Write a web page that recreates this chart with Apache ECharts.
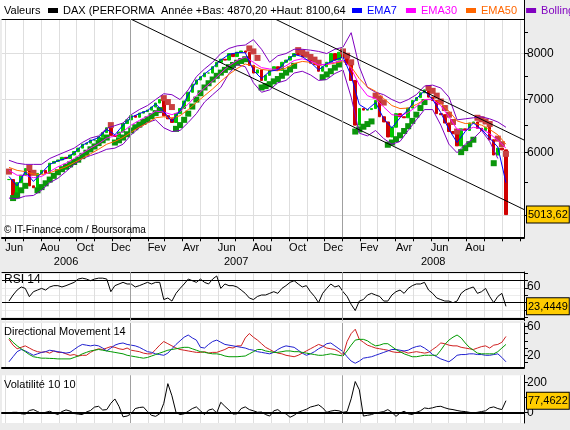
<!DOCTYPE html>
<html>
<head>
<meta charset="utf-8">
<title>DAX</title>
<script src="https://cdn.jsdelivr.net/npm/echarts@6/dist/echarts.min.js"></script>
<style>
html, body { margin: 0; padding: 0; background: #ececec; }
#main { width: 570px; height: 430px; }
</style>
</head>
<body>
<div id="main"></div>
<script>
var DAY = 86400000
var firstDay = Date.UTC(2006, 5, 7)   // premier point hebdo
var lastDay = Date.UTC(2008, 9, 8)
var xMin = Date.UTC(2006, 4, 26)
var xMax = Date.UTC(2008, 10, 8)

var monthNames = ['Jan', 'Fev', 'Mar', 'Avr', 'Mai', 'Jun', 'Jul', 'Aou', 'Sep', 'Oct', 'Nov', 'Dec']
var yearLow = 4870.20
var yearHigh = 8100.64

// cours de cloture, un point par semaine
var closes = [5550, 5300, 5500, 5620, 5730, 5450, 5420, 5650, 5700, 5650,
    5820, 5850, 5875, 5920, 5900, 5960, 6020, 6080, 6150, 6170,
    6225, 6225, 6285, 6360, 6450, 6310, 6290, 6370, 6530, 6600,
    6680, 6650, 6730, 6760, 6790, 6850, 6930, 7000, 6680, 6620,
    6550, 6720, 6820, 6970, 7150, 7320, 7410, 7480, 7560, 7560,
    7700, 7800, 7870, 7850, 8000, 7930, 8030, 8060, 8030, 7730,
    7560, 7630, 7400, 7510, 7620, 7700, 7620, 7800, 7850, 7930,
    8000, 7970, 7920, 7930, 7780, 7750, 7600, 7700, 7800, 8000,
    7850, 8030, 7900, 7750, 7400, 6500, 6820, 6790, 6800, 6820,
    6980, 6660, 6560, 6280, 6460, 6720, 6660, 6640, 6830, 6980,
    7040, 7140, 7200, 7050, 6980, 6720, 6700, 6540, 6380, 6340,
    6120, 6430, 6400, 6540, 6560, 6440, 6400, 6460, 6230, 5960,
    6080, 6050, 5013.62]

// parabolic SAR, hebdo
var sar = [5680, 5260, 5300, 5380, 5450, 5740, 5660, 5380, 5430, 5490,
    5550, 5610, 5670, 5720, 5760, 5800, 5840, 5880, 5940, 6000,
    6060, 6110, 6170, 6220, 6270, 6500, 6180, 6220, 6270, 6330,
    6400, 6460, 6510, 6560, 6610, 6670, 6730, 6790, 7030, 6950,
    6850, 6430, 6500, 6600, 6720, 6860, 7000, 7130, 7250, 7340,
    7420, 7500, 7570, 7630, 7690, 7740, 7790, 7830, 7870, 8120,
    8050, 7900, 7250, 7280, 7320, 7380, 7430, 7500, 7570, 7640,
    7720, 8080, 8030, 7980, 7920, 7860, 7790, 7470, 7530, 7600,
    7680, 7750, 8050, 7950, 7800, 6380, 6420, 6470, 6520, 6570,
    7080, 7020, 6940, 6140, 6180, 6240, 6310, 6390, 6480, 6580,
    6700, 6830, 6950, 7240, 7180, 7080, 6960, 6830, 6700, 6560,
    6380, 6010, 6080, 6150, 6230, 6640, 6610, 6570, 6520, 5820,
    6250, 6150, 5980]

// moyennes et bandes, un point toutes les deux semaines
var ema7 = [5600, 5450, 5680, 5520, 5660, 5800, 5860, 5900, 6000, 6130,
    6210, 6270, 6420, 6320, 6500, 6650, 6720, 6780, 6910, 6760,
    6570, 6780, 7100, 7380, 7540, 7680, 7850, 7980, 8020, 8020,
    7620, 7440, 7600, 7630, 7820, 7980, 7930, 7800, 7630, 7770,
    7850, 7920, 7500, 6900, 6800, 6940, 6620, 6450, 6640, 6800,
    7020, 7180, 7000, 6740, 6420, 6180, 6380, 6540, 6420, 6260,
    6100, 5500]
var ema30 = [5700, 5620, 5620, 5580, 5600, 5680, 5760, 5820, 5900, 5990,
    6080, 6160, 6260, 6300, 6380, 6500, 6590, 6670, 6770, 6750,
    6700, 6760, 6910, 7080, 7240, 7390, 7560, 7720, 7840, 7920,
    7800, 7680, 7650, 7640, 7720, 7840, 7880, 7830, 7740, 7760,
    7800, 7850, 7660, 7300, 7080, 7020, 6850, 6700, 6680, 6740,
    6860, 7000, 7000, 6880, 6660, 6420, 6400, 6460, 6430, 6340,
    6220, 6080]
var ema50 = [5750, 5700, 5680, 5640, 5630, 5660, 5710, 5760, 5830, 5900,
    5980, 6060, 6150, 6200, 6270, 6370, 6460, 6540, 6640, 6660,
    6640, 6680, 6800, 6940, 7080, 7220, 7380, 7530, 7660, 7760,
    7720, 7640, 7620, 7610, 7670, 7770, 7820, 7800, 7740, 7750,
    7780, 7820, 7700, 7440, 7260, 7170, 7020, 6880, 6820, 6830,
    6900, 7000, 7010, 6930, 6770, 6580, 6530, 6540, 6500, 6420,
    6320, 6150]
var bollUp = [5870, 5820, 5800, 5800, 5800, 5900, 5960, 6020, 6080, 6180,
    6260, 6300, 6440, 6490, 6540, 6700, 6800, 6880, 7000, 7120,
    7100, 7000, 7200, 7480, 7650, 7800, 8000, 8120, 8180, 8200,
    8330, 8100, 7800, 7950, 8000, 8100, 8100, 8080, 8050, 8000,
    8100, 8150, 8500, 7700, 7250, 7150, 7100, 7000, 6930, 7000,
    7100, 7280, 7300, 7240, 7050, 6600, 6620, 6640, 6660, 6620,
    6560, 6460]
var bollLow = [5260, 5250, 5290, 5300, 5380, 5500, 5570, 5680, 5800, 5900,
    5950, 6000, 6060, 6080, 6150, 6320, 6450, 6550, 6600, 6450,
    6380, 6400, 6550, 6720, 6950, 7100, 7250, 7550, 7750, 7700,
    7350, 7150, 7200, 7350, 7400, 7560, 7600, 7520, 7400, 7420,
    7550, 7630, 7050, 6350, 6300, 6400, 6250, 6150, 6200, 6400,
    6600, 6800, 6800, 6500, 6150, 6000, 6150, 6250, 6400, 6200,
    5900, null]

// canal baissier : [date, cours] aux deux bouts
var trendUpper = [[Date.UTC(2007, 8, 9), 8830], [Date.UTC(2008, 10, 8), 6225]]
var trendLower = [[Date.UTC(2007, 0, 4), 8830], [Date.UTC(2008, 10, 8), 5088]]

// indicateurs, hebdo
var rsi = [33, 44, 53, 58.6, 56, 41, 50, 53, 56, 53,
    58.6, 61, 61, 58.6, 61, 64, 67, 73, 74.6, 73,
    70, 73, 74.6, 74.6, 73, 50, 61, 64, 67, 64,
    64, 58.6, 61, 64, 67, 64, 67, 67, 35.7, 38.6,
    33, 47, 56, 64, 73, 70, 67, 73, 67, 64,
    73, 78.6, 56, 64, 61, 61, 58.6, 53, 47, 38.6,
    35.7, 41.4, 44, 44, 47, 50, 47, 56, 61, 67,
    70, 64, 58.6, 61, 50, 41.4, 30, 47, 56, 64,
    58.6, 61, 50, 41.4, 27, 15.7, 33, 35.7, 44, 47,
    44, 41.4, 33, 33, 44, 50, 53, 47, 56, 61,
    64, 64, 67, 53, 47, 38.6, 35.7, 33, 33, 30,
    33, 47, 53, 56, 58.6, 47, 50, 56, 41.4, 30,
    41.4, 47, 23.4449]
var dmRed = [42, 34, 29, 31, 33, 30, 27, 25, 24, 25,
    23, 26, 24, 24, 22, 20, 21, 19, 20, 20,
    24, 27, 29, 28, 30, 32, 31, 29, 28, 30,
    27, 26, 25, 23, 22, 22, 28, 34, 39, 36,
    33, 30, 28, 27, 26, 25, 24, 24, 25, 23,
    24, 24, 26, 28, 31, 30, 33, 33, 44, 50,
    45, 41, 36, 31, 28, 25, 23, 22, 20, 19,
    18, 20, 23, 26, 29, 32, 35, 33, 30, 29,
    28, 25, 20, 39, 50, 56, 42, 38, 34, 32,
    30, 29, 28, 27, 25, 24, 24, 25, 23, 24,
    25, 24, 23, 24, 28, 32, 37, 36, 34, 33,
    33, 31, 30, 29, 28, 30, 32, 33, 30, 34,
    35, 38, 46]
var dmBlue = [11, 18, 25, 28, 26, 23, 20, 22, 24, 25,
    27, 26, 25, 24, 23, 24, 28, 32, 35, 34,
    33, 34, 33, 30, 26, 30, 34, 36, 37, 35,
    34, 33, 31, 28, 25, 24, 22, 21, 20, 23,
    29, 35, 40, 45, 48, 44, 41, 31, 30, 35,
    39, 41, 38, 35, 34, 33, 32, 31, 30, 28,
    27, 25, 24, 23, 22, 24, 28, 31, 33, 32,
    31, 27, 23, 20, 22, 25, 29, 32, 36, 37,
    33, 29, 25, 18, 12, 9, 12, 16, 17, 18,
    20, 22, 24, 26, 28, 28, 27, 26, 27, 30,
    32, 33, 30, 26, 21, 18, 15, 13, 11, 15,
    20, 21, 21, 22, 22, 21, 21, 20, 20, 21,
    22, 17, 11]
var adx = [44, 38, 33, 29, 25, 21, 18, 17, 16, 16,
    15.7, 15.5, 15, 15, 15, 15, 17, 19, 22, 24,
    26, 27, 28, 27, 26, 25, 24, 23, 22, 20,
    19, 18, 17, 16, 17, 19, 21, 23, 25, 27,
    28, 29, 30, 31, 31, 29, 27, 25, 24, 23,
    22, 22, 21, 19, 18, 18, 18, 18.5, 19, 22,
    25, 28, 28, 26, 25, 24, 24, 25, 26, 26,
    25, 25, 24, 23, 22, 21, 20, 20, 21, 22,
    21, 20, 19, 26, 34, 41, 42, 42, 40, 36,
    33, 34, 36, 36, 32, 28, 25, 22, 20, 18,
    18, 19, 20, 20, 20, 20, 27, 35, 41, 45,
    48, 44, 37, 31, 27, 23, 22, 22, 22, 22,
    25, 30, 35]
var volat = [-4, 0, 0, -10, -12, 12, 18, 5, -8, 0,
    7, -5, -15, 5, 16, 8, -8, -12, -15, 2,
    12, 35, 40, 15, 18, 60, 89, 40, -30, -25,
    -10, 25, 32, 35, 5, -20, -27, -10, 60, 191,
    110, 0, -15, -10, 7, 25, 36, 10, -15, 15,
    22, -4, 67, 40, 15, -12, -10, 25, 36, 18,
    10, 0, 2, -15, -25, 10, 18, -4, -10, -33,
    -20, 0, 10, 20, 35, 42, 50, 30, 0, 8,
    13, 10, 0, 5, 90, 205, 150, -25, -20, -15,
    -5, 0, 5, 18, 0, -27, -5, 7, -10, -15,
    0, 10, 29, 25, 30, 38, 40, 30, 22, 18,
    12, 7, 5, 0, -4, 0, 5, 10, 30, 36,
    25, 18, 77.4622]

var font = 'Liberation Sans, Arial, sans-serif'
var gridColor = '#dedede'

function weekly(arr) {
    return arr.map(function (v, i) { return [firstDay + i * 7 * DAY, v] })
}
function biweekly(arr) {
    return arr.map(function (v, i) { return [firstDay + i * 14 * DAY, v] })
}
function frNum(v, d) {
    return v.toFixed(d).replace('.', ',')
}

function getCandles() {
    return closes.map(function (c, i) {
        var o = i > 0 ? closes[i - 1] : c
        return [firstDay + i * 7 * DAY, o, c, Math.min(o, c), Math.max(o, c)]
    })
}
function getSar() {
    return sar.map(function (v, i) {
        return {
            value: [firstDay + i * 7 * DAY, v],
            itemStyle: { color: v < closes[i] ? '#0b960b' : '#c84040', opacity: 1 }
        }
    })
}

/* graduations du temps */
function getMonthStarts() {
    var out = []
    for (var y = 2006; y <= 2008; y++) {
        for (var m = 0; m < 12; m++) {
            var t = Date.UTC(y, m, 1)
            if (t >= xMin && t <= xMax) out.push(t)
        }
    }
    return out
}
function getMonthMids() {
    var out = [], t
    for (var k = 0; ; k++) {
        t = Date.UTC(2006, 5 + 2 * k, 16)
        if (t > lastDay) break
        out.push(t)
    }
    return out
}
function getYearMids() {
    var out = []
    for (var y = 2006; y <= 2008; y++) {
        var a = Math.max(xMin, Date.UTC(y, 0, 1))
        var b = Math.min(xMax, Date.UTC(y + 1, 0, 1))
        out.push((a + b) / 2)
    }
    return out
}
var monthStarts = getMonthStarts()
var yearLines = [{ xAxis: Date.UTC(2007, 0, 1) }, { xAxis: Date.UTC(2008, 0, 1) }]

function markLines(extra) {
    return {
        silent: true,
        symbol: ['none', 'none'],
        label: { show: false },
        lineStyle: { color: '#a0a0a0', width: 1, type: 'solid' },
        data: yearLines.concat(extra || [])
    }
}

var lastClose = closes[closes.length - 1]
var lastRsi = rsi[rsi.length - 1]
var lastVol = volat[volat.length - 1]

var boxStyle = {
    backgroundColor: '#ffcc00', borderColor: '#000', borderWidth: 1,
    padding: [3, 1, 2, 1], color: '#000', fontSize: 11, fontFamily: font
}

function xAxisFor(grid, extra) {
    var a = {
        type: 'value', gridIndex: grid, min: xMin, max: xMax,
        axisLine: { show: false }, axisTick: { show: false },
        axisLabel: { show: false }, splitLine: { show: false }
    }
    for (var k in extra) a[k] = extra[k]
    return a
}
function panelX(grid) {
    return xAxisFor(grid, {
        position: 'bottom',
        axisLine: { show: true, lineStyle: { color: '#000', width: 2 } },
        axisTick: { show: false, customValues: monthStarts },
        splitLine: { show: true, lineStyle: { color: gridColor } }
    })
}

// axe sans trait qui ne porte que l'etiquette de la derniere valeur
function boxAxis(grid, min, max, value, digits) {
    return {
        type: 'value', gridIndex: grid, position: 'right', min: min, max: max,
        axisLine: { show: false }, axisTick: { show: false }, splitLine: { show: false },
        axisLabel: {
            show: true, margin: 3, customValues: [value],
            formatter: function () { return '{box|' + frNum(value, digits) + '}' },
            rich: { box: boxStyle }
        }
    }
}

function lineSeries(name, data, color, xi, yi, width) {
    return {
        name: name, type: 'line', data: data, xAxisIndex: xi, yAxisIndex: yi,
        showSymbol: false, symbol: 'none', connectNulls: false,
        lineStyle: { color: color, width: width || 1 }, itemStyle: { color: color }
    }
}

var myChart = echarts.init(document.getElementById('main'))

var option = {
    animation: false,
    backgroundColor: 'transparent',
    textStyle: { fontFamily: font },
    graphic: [
        { type: 'rect', shape: { x: 0, y: 0, width: 524, height: 19 }, style: { fill: '#fff' }, z: 0 },
        { type: 'line', shape: { x1: 524.5, y1: 0, x2: 524.5, y2: 19 }, style: { stroke: '#000', lineWidth: 1 }, z: 1 }
    ],
    title: [
        { text: 'Valeurs', left: 4, top: 5, padding: 0, textStyle: { fontSize: 11, fontWeight: 'normal', color: '#000', fontFamily: font } },
        { text: 'Année +Bas: ' + frNum(yearLow, 2) + ' +Haut: ' + frNum(yearHigh, 2), left: 161, top: 5, padding: 0, textStyle: { fontSize: 11, fontWeight: 'normal', color: '#000', fontFamily: font } },
        { text: '© IT-Finance.com / Boursorama', left: 4, top: 225, padding: 0, textStyle: { fontSize: 10, fontWeight: 'normal', color: '#000', fontFamily: font } },
        { text: 'RSI 14', left: 4, top: 274, padding: 0, textStyle: { fontSize: 12, fontWeight: 'normal', color: '#000', fontFamily: font } },
        { text: 'Directional Movement 14', left: 4, top: 326, padding: 0, textStyle: { fontSize: 11, fontWeight: 'normal', color: '#000', fontFamily: font } },
        { text: 'Volatilité 10 10', left: 4, top: 379, padding: 0, textStyle: { fontSize: 11, fontWeight: 'normal', color: '#000', fontFamily: font } }
    ],
    legend: [{
        left: 48, top: 5, padding: 0, itemWidth: 10, itemHeight: 5, icon: 'rect', selectedMode: false,
        itemStyle: { color: '#000', borderColor: '#000', borderWidth: 0 },
        textStyle: { fontSize: 11, fontFamily: font, color: '#000' },
        data: [{ name: 'DAX (PERFORMA', icon: 'rect', itemStyle: { color: '#000', borderColor: '#000', borderWidth: 0 } }]
    }, {
        left: 352, top: 5, width: 400, padding: 0, itemGap: 9, itemWidth: 10, itemHeight: 5, icon: 'rect', selectedMode: false,
        textStyle: { fontSize: 11, fontFamily: font },
        data: [
            { name: 'EMA7', textStyle: { color: '#0000ff' } },
            { name: 'EMA30', textStyle: { color: '#ff00ff' } },
            { name: 'EMA50', textStyle: { color: '#ff6600' } },
            { name: 'Bollinger', textStyle: { color: '#8000c0' } }
        ]
    }],
    grid: [
        { left: 2, right: 46, top: 19, height: 218.3, show: true, backgroundColor: '#fff', borderWidth: 0, outerBoundsMode: 'none' },
        { left: 2, right: 46, top: 272, height: 48.7, show: true, backgroundColor: '#fff', borderWidth: 0, outerBoundsMode: 'none' },
        { left: 2, right: 46, top: 323, height: 44.3, show: true, backgroundColor: '#fff', borderWidth: 0, outerBoundsMode: 'none' },
        { left: 2, right: 46, top: 375.3, height: 47.7, show: true, backgroundColor: '#fff', borderWidth: 0, outerBoundsMode: 'none' }
    ],
    xAxis: [
        xAxisFor(0, {
            position: 'bottom',
            axisLine: { show: true, lineStyle: { color: '#000', width: 2 } },
            axisTick: { show: true, length: 4, customValues: monthStarts, lineStyle: { color: '#000' } },
            axisLabel: {
                show: true, customValues: getMonthMids(), margin: 5, fontSize: 11, color: '#000', fontFamily: font,
                formatter: function (v) { return monthNames[new Date(v).getUTCMonth()] }
            },
            splitLine: { show: true, lineStyle: { color: gridColor } }
        }),
        xAxisFor(0, {
            position: 'bottom', offset: 14,
            axisLabel: {
                show: true, customValues: getYearMids(), margin: 5, fontSize: 11, color: '#000', fontFamily: font,
                formatter: function (v) { return String(new Date(v).getUTCFullYear()) }
            }
        }),
        xAxisFor(0, { position: 'top', axisLine: { show: true, lineStyle: { color: '#000', width: 1 } } }),
        panelX(1),
        xAxisFor(1, { position: 'top', axisLine: { show: true, lineStyle: { color: '#000', width: 1 } } }),
        panelX(2),
        panelX(3)
    ],
    yAxis: [
        {
            type: 'log', logBase: 10, gridIndex: 0, position: 'right', min: 4694, max: 8844,
            axisLine: { show: true, lineStyle: { color: '#000' } },
            axisTick: { show: true, length: 4, customValues: [5000, 5500, 6000, 6500, 7000, 7500, 8000, 8500], lineStyle: { color: '#000' } },
            axisLabel: {
                show: true, margin: 3, hideOverlap: false, customValues: [6000, 7000, 8000, lastClose], fontSize: 12, color: '#000', fontFamily: font,
                formatter: function (v) {
                    if (Math.abs(v - lastClose) < 0.5) return '{box|' + frNum(lastClose, 2) + '}'
                    return String(Math.round(v))
                },
                rich: { box: boxStyle }
            },
            splitLine: { show: false }
        },
        {
            type: 'log', logBase: 10, gridIndex: 0, position: 'right', min: 4694, max: 8844,
            axisLine: { show: false },
            axisTick: { show: false, customValues: [5000, 6000, 7000, 8000] },
            axisLabel: { show: false },
            splitLine: { show: true, lineStyle: { color: gridColor } }
        },
        {
            type: 'value', gridIndex: 1, position: 'right', min: -2.7, max: 85.8,
            axisLine: { show: true, lineStyle: { color: '#000' } },
            axisTick: { show: true, length: 4, customValues: [3.3, 16.7, 30, 43.3, 56.7, 70, 83.3], lineStyle: { color: '#000' } },
            axisLabel: {
                show: true, margin: 3, hideOverlap: false, customValues: [60, lastRsi], fontSize: 12, color: '#000', fontFamily: font,
                formatter: function (v) {
                    if (Math.abs(v - lastRsi) < 0.01) return '{box|' + frNum(lastRsi, 4) + '}'
                    return String(Math.round(v))
                },
                rich: { box: boxStyle }
            },
            splitLine: { show: true, lineStyle: { color: '#ececec' } }
        },
        {
            type: 'value', gridIndex: 2, position: 'right', min: 3.4, max: 64.6,
            axisLine: { show: true, lineStyle: { color: '#000' } },
            axisTick: { show: true, length: 4, customValues: [10, 20, 30, 40, 50, 60], lineStyle: { color: '#000' } },
            axisLabel: { show: true, margin: 3, hideOverlap: false, customValues: [20, 60], fontSize: 12, color: '#000', fontFamily: font },
            splitLine: { show: false }
        },
        {
            type: 'value', gridIndex: 3, position: 'right', min: -71.3, max: 246.7,
            axisLine: { show: true, lineStyle: { color: '#000' } },
            axisTick: { show: true, length: 4, customValues: [0, 100, 200], lineStyle: { color: '#000' } },
            axisLabel: { show: true, margin: 3, hideOverlap: false, customValues: [0, 200], fontSize: 12, color: '#000', fontFamily: font },
            splitLine: { show: false }
        },
        boxAxis(3, -71.3, 246.7, lastVol, 4)
    ],
    series: [
        lineSeries('Bollinger', biweekly(bollUp), '#8000c0', 0, 0),
        lineSeries('Bollinger', biweekly(bollLow), '#8000c0', 0, 0),
        lineSeries('EMA50', biweekly(ema50), '#ff6600', 0, 0),
        lineSeries('EMA30', biweekly(ema30), '#ff00ff', 0, 0),
        {
            name: 'DAX (PERFORMA', type: 'candlestick', xAxisIndex: 0, yAxisIndex: 0,
            data: getCandles(), encode: { x: 0, y: [1, 2, 3, 4] }, barWidth: 3,
            itemStyle: { color: '#00c800', color0: '#d00000', borderColor: '#00c800', borderColor0: '#d00000', borderWidth: 1 },
            markLine: markLines()
        },
        lineSeries('EMA7', biweekly(ema7), '#0000ff', 0, 0),
        {
            name: 'SAR', type: 'scatter', xAxisIndex: 0, yAxisIndex: 0,
            symbol: 'rect', symbolSize: [6, 6], data: getSar()
        },
        lineSeries('Canal', trendUpper, '#000', 0, 0),
        lineSeries('Canal', trendLower, '#000', 0, 0),

        // RSI
        (function () {
            var s = lineSeries('RSI 14', weekly(rsi), '#000', 3, 2)
            s.markLine = markLines([
                { yAxis: 70, lineStyle: { color: '#000', width: 1 } },
                { yAxis: 30, lineStyle: { color: '#000', width: 1 } }
            ])
            return s
        })(),

        // Directional movement
        (function () {
            var s = lineSeries('DI+', weekly(dmRed), '#d02020', 5, 3)
            s.markLine = markLines()
            return s
        })(),
        lineSeries('DI-', weekly(dmBlue), '#2020d0', 5, 3),
        lineSeries('ADX', weekly(adx), '#009a00', 5, 3),

        // Volatilite
        (function () {
            var s = lineSeries('Volatilite', weekly(volat), '#000', 6, 4)
            s.markLine = markLines([{ yAxis: 0, lineStyle: { color: '#000', width: 1 } }])
            return s
        })()
    ]
}

myChart.setOption(option)
</script>
</body>
</html>
